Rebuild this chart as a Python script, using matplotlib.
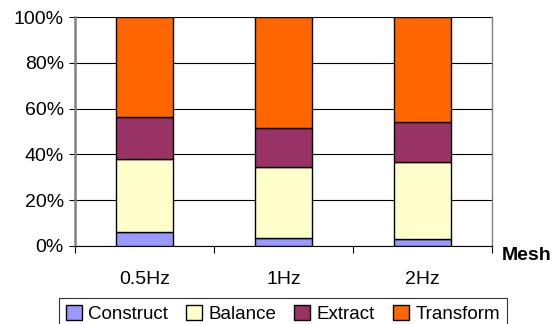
import matplotlib.pyplot as plt
import numpy as np

plt.rcParams['font.family'] = ['Liberation Sans', 'DejaVu Sans']

categories = ['0.5Hz', '1Hz', '2Hz']
construct = [6.3, 3.5, 3.1]
balance = [31.7, 31.1, 33.7]
extract = [18.5, 17.1, 17.2]
transform = [43.5, 48.3, 46.0]

series = [('Construct', construct, '#9999ff'),
          ('Balance', balance, '#ffffcc'),
          ('Extract', extract, '#993366'),
          ('Transform', transform, '#ff6600')]

fig = plt.figure(figsize=(5.54, 3.24), dpi=100)
ax = fig.add_axes([75 / 554, 1 - 246 / 324, 417 / 554, 229 / 324])

x = np.arange(len(categories))
bottom = np.zeros(len(categories))
for label, vals, color in series:
    ax.bar(x, vals, 0.41, bottom=bottom, color=color, edgecolor='black',
           linewidth=1, label=label, zorder=3)
    bottom += np.array(vals)

ax.set_xlim(-0.5, 2.5)
ax.set_ylim(0, 100)
ax.set_yticks(range(0, 101, 20))
ax.set_yticklabels([f'{v}%' for v in range(0, 101, 20)], fontsize=14)
ax.yaxis.grid(True, color='black', linewidth=0.8, zorder=0)
ax.tick_params(axis='y', length=4, width=0.8, pad=4)

# category ticks sit between the bars
ax.set_xticks([-0.5, 0.5, 1.5, 2.5])
ax.set_xticklabels([])
ax.set_xticks(x, minor=True)
ax.set_xticklabels(categories, minor=True, fontsize=14)
ax.tick_params(axis='x', which='major', direction='out', length=5, width=0.8)
ax.tick_params(axis='x', which='minor', length=0, pad=18)

for side in ['left', 'right', 'top']:
    ax.spines[side].set_color('#808080')
ax.spines['left'].set_linewidth(1.8)
ax.spines['right'].set_linewidth(1.0)
ax.spines['top'].set_visible(False)
ax.spines['bottom'].set_color('black')
ax.spines['bottom'].set_linewidth(0.8)

fig.text(502 / 554, 1 - 255 / 324, 'Mesh', fontsize=14, fontweight='bold',
         va='center', ha='left')

leg = ax.legend(loc='upper center', bbox_to_anchor=(283 / 554, 1 - 298 / 324),
                bbox_transform=fig.transFigure, ncol=4, fontsize=13.5,
                frameon=True, fancybox=False, edgecolor='black',
                handlelength=0.85, handleheight=0.85, handletextpad=0.35,
                columnspacing=0.95, borderpad=0.35, borderaxespad=0)
leg.get_frame().set_linewidth(0.8)

plt.savefig('out.png', dpi=100)
